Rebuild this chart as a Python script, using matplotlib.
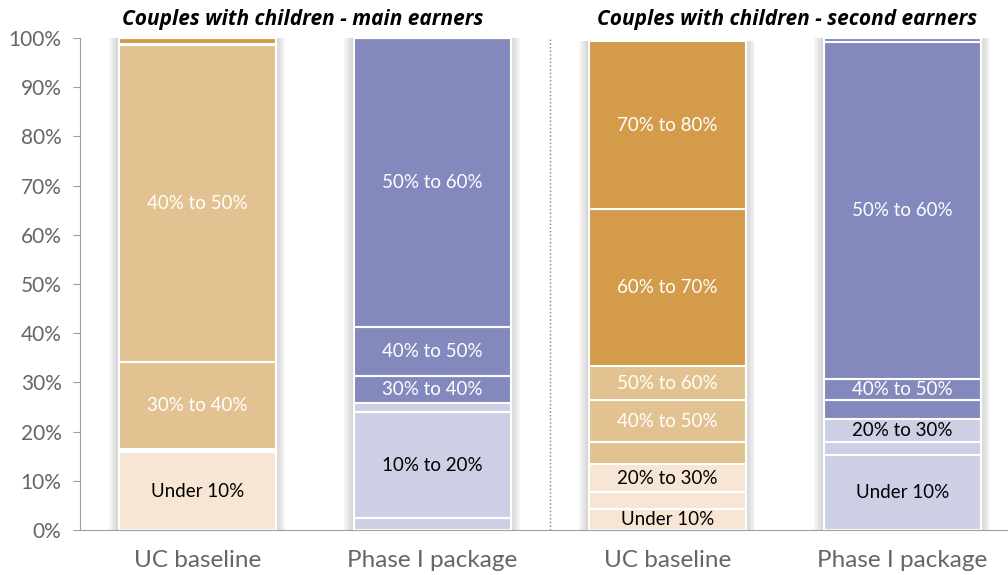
import matplotlib.pyplot as plt
import numpy as np

plt.rcParams['font.family'] = ['Lato', 'DejaVu Sans']

groups = ['UC baseline', 'Phase I package', 'UC baseline', 'Phase I package']
titles = ['Couples with children - main earners', 'Couples with children - second earners']
brackets = ['Under 10%', '10% to 20%', '20% to 30%', '30% to 40%',
            '40% to 50%', '50% to 60%', '60% to 70%', '70% to 80%']

# share of each group in each tax-rate bracket (%), one list per bracket
under10 = [15.9, 2.4, 4.3, 15.2]
b10_20 = [0.3, 21.6, 3.4, 2.7]
b20_30 = [0.3, 1.8, 5.7, 4.7]
b30_40 = [17.6, 5.5, 4.5, 3.8]
b40_50 = [64.4, 10.0, 8.5, 4.3]
b50_60 = [0.3, 58.7, 6.9, 68.5]
b60_70 = [1.2, 0.0, 31.9, 0.8]
b70_80 = [0.0, 0.0, 34.2, 0.0]
values = [under10, b10_20, b20_30, b30_40, b40_50, b50_60, b60_70, b70_80]

# which segments carry a label
labelled = [[1, 0, 1, 1], [0, 1, 0, 0], [0, 0, 1, 1], [1, 1, 0, 0],
            [1, 1, 1, 1], [0, 1, 1, 1], [0, 0, 1, 0], [0, 0, 1, 0]]

orange = ['#F6E6D3', '#F6E6D3', '#F6E6D3', '#E3C291', '#E3C291', '#E3C291', '#D39B4A', '#D39B4A']
blue = ['#CDD0E5', '#CDD0E5', '#CDD0E5', '#8489BD', '#8489BD', '#8489BD', '#8489BD', '#8489BD']
palettes = [orange, blue, orange, blue]
dark_text = [True, True, True, False, False, False, False, False]

fig = plt.figure(figsize=(10.08, 5.75), dpi=100)
ax = fig.add_axes([0.079, 0.078, 0.921, 0.856])

x = np.arange(len(groups))
w = 0.667

# soft shadow around the bars
for k in range(1, 8):
    ax.bar(x, np.sum(values, axis=0), width=w + k * 0.012, color='#8a8a8a',
           alpha=0.06, linewidth=0, zorder=1)

bottom = np.zeros(len(groups))
for i, vals in enumerate(values):
    vals = np.array(vals)
    cols = [palettes[j][i] for j in range(len(groups))]
    ax.bar(x, vals, w, bottom=bottom, color=cols, edgecolor='white', linewidth=1.5, zorder=2)
    for j in range(len(groups)):
        if labelled[i][j]:
            ax.text(x[j], bottom[j] + vals[j] / 2, brackets[i], ha='center', va='center',
                    fontsize=13.5, color='black' if dark_text[i] else 'white', zorder=3)
    bottom += vals

ax.axvline(1.5, color='#7f7f7f', linestyle=':', linewidth=1, zorder=0)

ax.set_xlim(-0.5, 3.45)
ax.set_ylim(0, 100)
ax.set_yticks(np.arange(0, 101, 10))
ax.set_yticklabels([f'{v}%' for v in range(0, 101, 10)], fontsize=15, color='#666666')
ax.set_xticks(x)
ax.set_xticklabels(groups, fontsize=17.5, color='#666666')
ax.tick_params(axis='x', length=0, pad=14)
ax.tick_params(axis='y', length=5, color='#a0a0a0', pad=8)
for s in ['top', 'right']:
    ax.spines[s].set_visible(False)
for s in ['left', 'bottom']:
    ax.spines[s].set_color('#a0a0a0')

ax.text(0.45, 103.7, titles[0], ha='center', va='center', fontsize=15,
        fontweight='bold', fontstyle='italic', family=['Open Sans', 'DejaVu Sans'])
ax.text(2.51, 103.7, titles[1], ha='center', va='center', fontsize=15,
        fontweight='bold', fontstyle='italic', family=['Open Sans', 'DejaVu Sans'])

fig.savefig('out.png', dpi=100)
